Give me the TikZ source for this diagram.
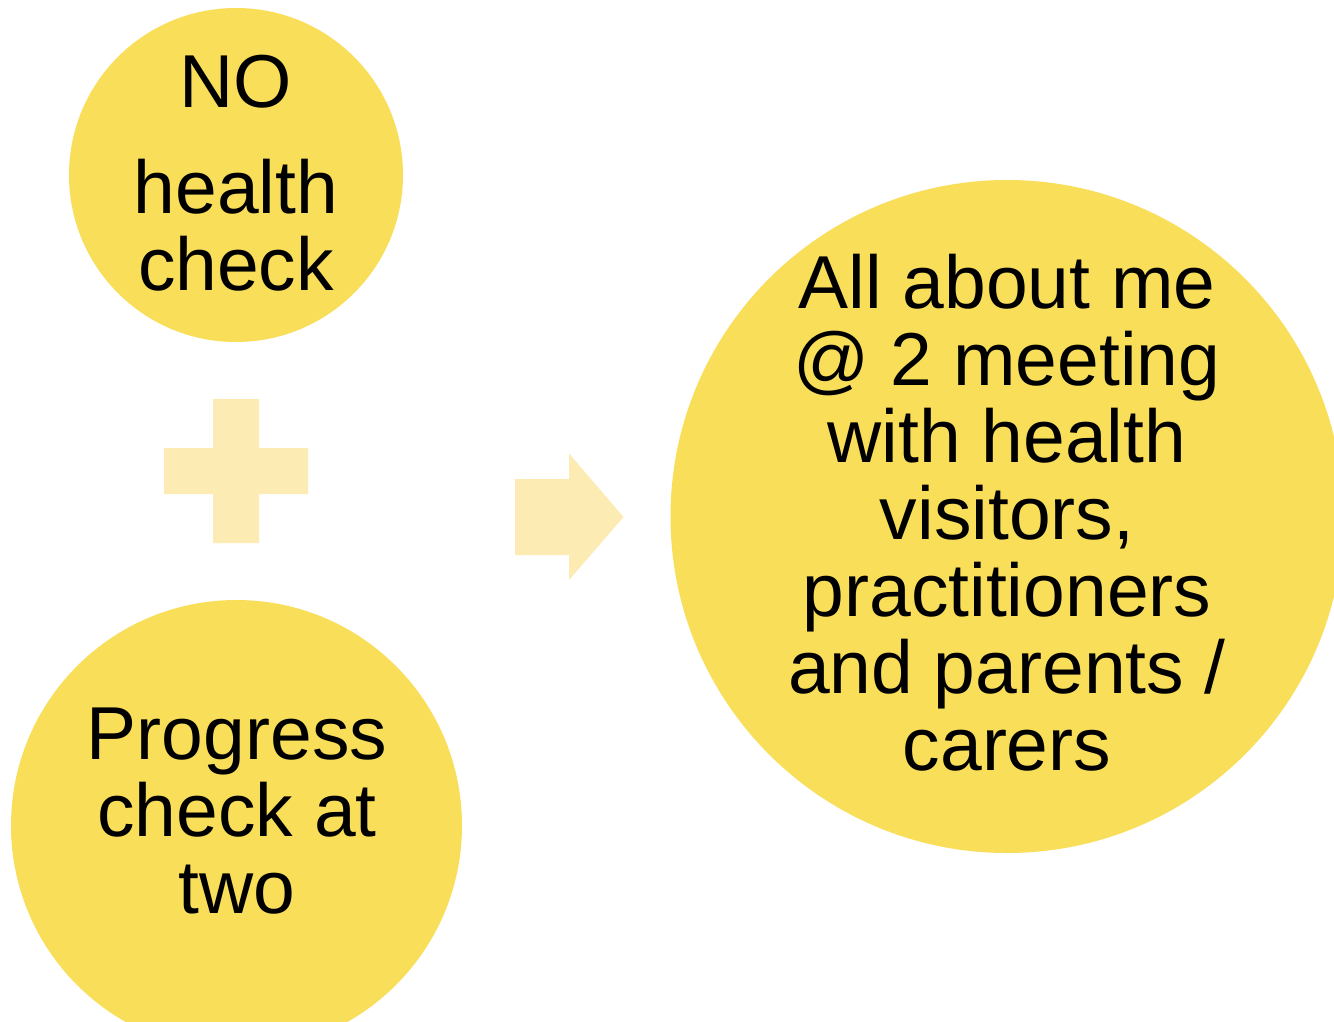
\documentclass[tikz,border=0pt]{standalone}
\usepackage{fontspec}
\setmainfont{Liberation Sans}
\definecolor{circleyellow}{RGB}{249,222,89}
\definecolor{lightyellow}{RGB}{253,235,180}
\begin{document}
\begin{tikzpicture}[x=1pt,y=-1pt,
  bubble/.style={circle,fill=circleyellow,draw=none,inner sep=0pt},
  bubbletext/.style={align=center,anchor=base,inner sep=0pt,text=black,
    font=\fontsize{75}{77}\selectfont},
  connshape/.style={fill=lightyellow,draw=none}]
\clip (0,0) rectangle (1334,1021);
\fill[white] (0,0) rectangle (1334,1021);
% circles
\node[bubble,minimum size=334pt] (nohc) at (236,175) {};
\node[bubble,minimum size=451pt] (prog) at (236.5,825.5) {};
\node[bubble,minimum size=673pt] (allme) at (1007,516.5) {};
% texts (anchored at baseline of the last line)
\node[bubbletext] (nohctext) at (236,290) {NO\\[29pt]health\\check};
\node[bubbletext] (progtext) at (237,913) {Progress\\check at\\two};
\node[bubbletext] (allmetext) at (1007,770) {All about me\\@ 2 meeting\\with health\\visitors,\\practitioners\\and parents /\\carers};
% plus sign
\fill[connshape] (213,399) -- (259,399) -- (259,448) -- (308,448) -- (308,494)
  -- (259,494) -- (259,543) -- (213,543) -- (213,494) -- (164,494) -- (164,448)
  -- (213,448) -- cycle;
% block arrow
\fill[connshape] (515,479) -- (569,479) -- (569,453.5) -- (623.5,517)
  -- (569,580) -- (569,555) -- (515,555) -- cycle;
\end{tikzpicture}
\end{document}
